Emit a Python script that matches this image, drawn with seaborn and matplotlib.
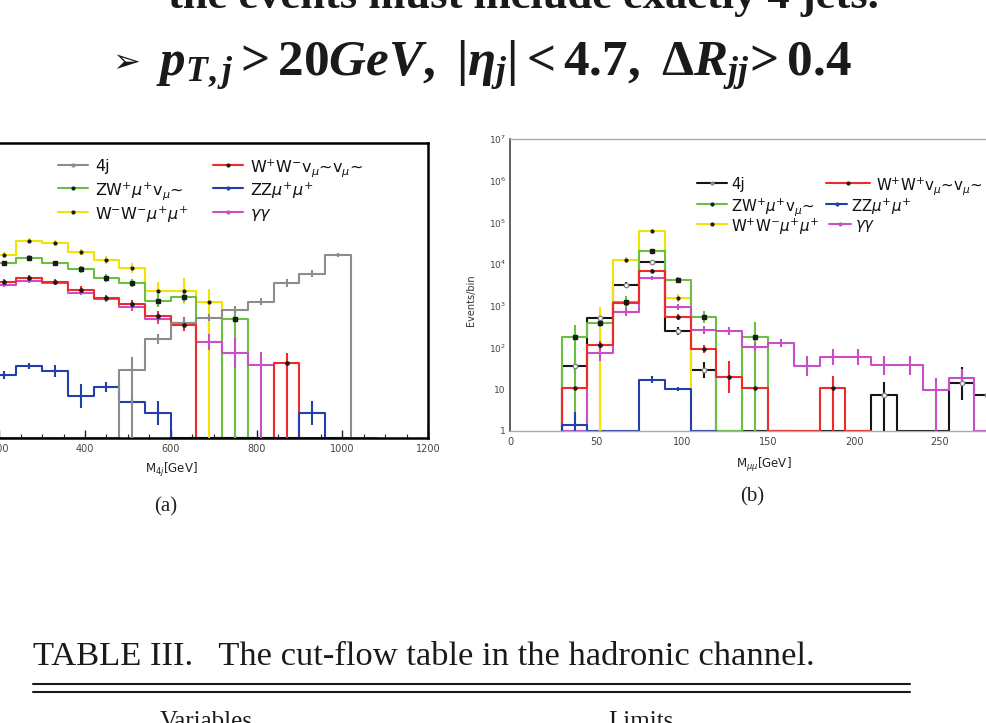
import numpy as np
import pandas as pd
import matplotlib
matplotlib.use("Agg")
import matplotlib.pyplot as plt
from matplotlib.lines import Line2D
from matplotlib.ticker import MultipleLocator, FixedLocator, FixedFormatter, LogLocator, NullFormatter
import seaborn as sns

# ------------------------------------------------------------------ data
# panel (a): M_4j, 60 GeV bins, first listed bin starts at 180 GeV
a_bin_start, a_bin_width = 180, 60
a_4j     = [0, 0, 0, 0, 0, 41, 225, 540, 710, 1100, 1700, 4800, 7900, 22000, 0]
a_wwvv   = [5100, 6300, 5100, 3300, 2100, 1500, 790, 480, 0, 0, 0, 60, 0]
a_zwmuv  = [14000, 19000, 14000, 10000, 6300, 4800, 1800, 2200, 0, 670, 0]
a_zzmumu = [31, 51, 39, 10, 16, 7.2, 3.9, 0, 0, 0, 0, 0, 3.9, 0]
a_wwmumu = [22000, 48000, 43000, 26000, 17000, 11000, 3100, 3100, 1700, 0]
a_gg     = [4300, 5400, 4800, 2800, 2000, 1300, 670, 540, 190, 105, 54, 0]
# error bar half-lengths (decades) and bins whose lower bar reaches the axis
a_4j_err     = [0, 0, 0, 0, 0, 0.3, 0.12, 0.1, 0.08, 0.08, 0.08, 0.1, 0.08, 0.05, 0]
a_wwvv_err   = [0.06, 0.06, 0.06, 0.08, 0.08, 0.1, 0.12, 0.15, 0, 0, 0, 0.25, 0]
a_zwmuv_err  = [0.06, 0.06, 0.06, 0.08, 0.1, 0.1, 0.15, 0.12, 0, 0.3, 0]
a_zzmumu_err = [0.1, 0.08, 0.15, 0.28, 0.12, 0.1, 0.28, 0, 0, 0, 0, 0, 0.28, 0]
a_wwmumu_err = [0.06, 0.06, 0.06, 0.08, 0.1, 0.12, 0.2, 0.3, 0.3, 0]
a_gg_err     = [0.05, 0.05, 0.05, 0.06, 0.08, 0.1, 0.12, 0.15, 0.2, 0.35, 0.3, 0]
a_4j_floor, a_wwvv_floor, a_zwmuv_floor = [5], [11], [9]
a_zzmumu_floor, a_wwmumu_floor, a_gg_floor = [], [8], [10]
a_xticks = [0, 200, 400, 600, 800, 1000, 1200]

# panel (b): M_mumu, 15 GeV bins starting at 30 GeV
b_bin_start, b_bin_width = 30, 15
b_4j     = [36, 510, 3200, 11000, 250, 29, 0, 0, 0, 0, 0, 0, 7.3, 0, 0, 14, 7.3, 0]
b_wwvv   = [11, 115, 1200, 6900, 540, 93, 20, 11, 0, 0, 11, 0]
b_zwmuv  = [178, 390, 1240, 21000, 4200, 540, 0, 180, 0]
b_zzmumu = [1.4, 0, 0, 17, 10, 0]
b_wwmumu = [0, 115, 12600, 63000, 1550, 0]
b_gg     = [0, 74, 710, 4700, 940, 265, 250, 103, 130, 36, 59, 59, 38, 38, 9.6, 19, 0, 0]
b_4j_err     = [0.2, 0.08, 0.06, 0.05, 0.1, 0.2, 0, 0, 0, 0, 0, 0, 0.3, 0, 0, 0.4, 0.3, 0]
b_wwvv_err   = [0, 0.1, 0.05, 0.05, 0.08, 0.1, 0.38, 0, 0, 0, 0.27, 0]
b_zwmuv_err  = [0.3, 0.1, 0.15, 0.05, 0.06, 0.15, 0, 0.35, 0]
b_zzmumu_err = [0.3, 0, 0, 0.08, 0.05, 0]
b_wwmumu_err = [0, 0.9, 0.08, 0.05, 0.1, 0]
b_gg_err     = [0, 0.2, 0.1, 0.05, 0.08, 0.1, 0.1, 0.1, 0.1, 0.23, 0.2, 0.2, 0.23, 0.23, 0.3, 0.2, 0, 0]
b_4j_floor, b_wwvv_floor, b_zwmuv_floor = [12, 16], [10], [0, 7]
b_zzmumu_floor, b_wwmumu_floor, b_gg_floor = [0], [1], [14]
b_xticks = [0, 50, 100, 150, 200, 250, 300]
b_xticklabels = ['0', '50', '100', '150', '200', '250', '']
b_yticks = [1, 10, 100, 1e3, 1e4, 1e5, 1e6, 1e7]
b_yticklabels = ['1', '10', '10$^{2}$', '10$^{3}$', '10$^{4}$', '10$^{5}$', '10$^{6}$', '10$^{7}$']

# ------------------------------------------------------------------ style
sns.set_theme(style='white')
plt.rcParams['font.family'] = ['DejaVu Sans']
plt.rcParams['mathtext.fontset'] = 'custom'
plt.rcParams['mathtext.rm'] = 'Liberation Serif:bold'
plt.rcParams['mathtext.it'] = 'Liberation Serif:bold:italic'
plt.rcParams['mathtext.bf'] = 'Liberation Serif:bold'

GREY, BLACK = '#8c8c8c', '#151515'
RED, GREEN, BLUE = '#ee2a2a', '#6cbf3f', '#2440a8'
YELLOW, MAGENTA = '#f0e400', '#c94fc9'

W, H = 986, 723
fig = plt.figure(figsize=(W / 100, H / 100), dpi=100)
fig.patch.set_facecolor('white')
fx = lambda px: px / W
fy = lambda py: 1 - py / H


def step_df(name, start, width, vals, floor=1.0):
    n = len(vals)
    edges = start + width * np.arange(n + 1)
    v = [max(x, floor) for x in vals]
    xs = [edges[0]] + list(edges[:-1]) + [edges[-1], edges[-1]]
    ys = [floor] + v + [v[-1], floor]
    return pd.DataFrame({'x': xs, 'y': ys, 'series': name})


def draw_panel(ax, series, start, width, lw=1.5):
    df = pd.concat([step_df(s[0], start, width, s[1]) for s in series], ignore_index=True)
    pal = {s[0]: s[4] for s in series}
    sns.lineplot(data=df, x='x', y='y', hue='series', hue_order=[s[0] for s in series],
                 palette=pal, estimator=None, sort=False, drawstyle='steps-post',
                 linewidth=lw, legend=False, ax=ax)
    for name, vals, err, floor_idx, col, mk in series:
        for i, v in enumerate(vals):
            if v <= 0:
                continue
            c = start + width * (i + 0.5)
            e = err[i]
            lo = 1.0 if i in floor_idx else v / 10 ** e
            hi = v * 10 ** e
            if e > 0:
                ax.vlines(c, lo, hi, color=col, lw=lw, zorder=3)
            if mk is not None:
                ax.plot([c], [v], **mk, zorder=4)


# ------------------------------------------------------------------ panel (a)
axa = fig.add_axes([fx(-86.5), fy(438), (428 + 86.5) / W, (438 - 143) / H])
a_series = [
    ('W-W-mumu', a_wwmumu, a_wwmumu_err, a_wwmumu_floor, YELLOW, dict(marker='o', ms=2, color='k', ls='none')),
    ('ZWmuv', a_zwmuv, a_zwmuv_err, a_zwmuv_floor, GREEN, dict(marker='s', ms=2.8, color='k', ls='none')),
    ('gg', a_gg, a_gg_err, a_gg_floor, MAGENTA, None),
    ('WWvv', a_wwvv, a_wwvv_err, a_wwvv_floor, RED, dict(marker='o', ms=2.4, color='k', ls='none')),
    ('ZZmumu', a_zzmumu, a_zzmumu_err, a_zzmumu_floor, BLUE, None),
    ('4j', a_4j, a_4j_err, a_4j_floor, GREY, None),
]
draw_panel(axa, a_series, a_bin_start, a_bin_width)
axa.set_yscale('log')
axa.set_ylim(1, 1e7)
axa.set_xlim(0, 1200)
axa.set_xlabel('')
axa.set_ylabel('')
axa.xaxis.set_major_locator(FixedLocator(a_xticks))
axa.xaxis.set_major_formatter(FixedFormatter([str(t) for t in a_xticks]))
axa.xaxis.set_minor_locator(MultipleLocator(50))
axa.tick_params(axis='x', which='major', direction='in', length=6, width=1, colors='#222',
                labelsize=7, labelcolor='#444', pad=4, bottom=True)
axa.tick_params(axis='x', which='minor', direction='in', length=3, width=0.8, colors='#222', bottom=True)
axa.tick_params(axis='y', which='both', left=False, labelleft=False)
for s in axa.spines.values():
    s.set_color('black')
    s.set_linewidth(1.8)
axa.set_facecolor('none')

# ------------------------------------------------------------------ panel (b)
axb = fig.add_axes([fx(510), fy(431), 516 / W, (431 - 139) / H])
b_series = [
    ('4j', b_4j, b_4j_err, b_4j_floor, BLACK, dict(marker='o', ms=3.2, mfc='white', mec='#888', ls='none')),
    ('W+W-mumu', b_wwmumu, b_wwmumu_err, b_wwmumu_floor, YELLOW, dict(marker='o', ms=2, color='k', ls='none')),
    ('ZWmuv', b_zwmuv, b_zwmuv_err, b_zwmuv_floor, GREEN, dict(marker='s', ms=3, color='k', ls='none')),
    ('gg', b_gg, b_gg_err, b_gg_floor, MAGENTA, None),
    ('WWvv', b_wwvv, b_wwvv_err, b_wwvv_floor, RED, dict(marker='o', ms=2.2, color='k', ls='none')),
    ('ZZmumu', b_zzmumu, b_zzmumu_err, b_zzmumu_floor, BLUE, None),
]
draw_panel(axb, b_series, b_bin_start, b_bin_width)
axb.set_yscale('log')
axb.set_ylim(1, 1e7)
axb.set_xlim(0, 300)
axb.set_xlabel('')
axb.set_ylabel('')
axb.xaxis.set_major_locator(FixedLocator(b_xticks))
axb.xaxis.set_major_formatter(FixedFormatter(b_xticklabels))
axb.xaxis.set_minor_locator(MultipleLocator(10))
axb.yaxis.set_major_locator(FixedLocator(b_yticks))
axb.yaxis.set_major_formatter(FixedFormatter(b_yticklabels))
axb.yaxis.set_minor_locator(LogLocator(base=10, subs=np.arange(2, 10)))
axb.yaxis.set_minor_formatter(NullFormatter())
axb.tick_params(axis='x', which='major', direction='in', length=5, width=0.8, colors='#777',
                labelsize=7, labelcolor='#444', pad=4)
axb.tick_params(axis='x', which='minor', direction='in', length=2.5, width=0.6, colors='#999')
axb.tick_params(axis='y', which='major', direction='in', length=11, width=1.5, colors='#333',
                labelsize=6.5, labelcolor='#444', pad=3)
axb.tick_params(axis='y', which='minor', direction='in', length=5, width=0.8, colors='#555')
for lab in axb.get_yticklabels():
    lab.set_math_fontfamily('dejavusans')
axb.spines['left'].set_color('#444')
axb.spines['left'].set_linewidth(1.2)
for k in ('top', 'bottom', 'right'):
    axb.spines[k].set_color('#aaaaaa')
    axb.spines[k].set_linewidth(1.0)
axb.set_facecolor('none')


# ------------------------------------------------------------------ legends
def entry(x0, x1, xt, y, col, label, mcol, fs=10):
    fig.add_artist(Line2D([fx(x0), fx(x1)], [fy(y)] * 2, color=col, lw=1.5))
    fig.add_artist(Line2D([fx((x0 + x1) / 2)], [fy(y)], marker='o', ms=2, color=mcol, ls='none'))
    fig.text(fx(xt), fy(y), label, fontsize=fs, va='center_baseline', ha='left',
             color='#111', math_fontfamily='dejavusans')


leg_a = [
    (58, 88, 95, 165, GREY, '4j', GREY),
    (58, 88, 95, 188, GREEN, r'ZW$^{+}\mu^{+}$v$_{\mu}$~', 'k'),
    (58, 88, 95, 212, YELLOW, r'W$^{-}$W$^{-}\mu^{+}\mu^{+}$', 'k'),
    (213, 243, 250, 165, RED, r'W$^{+}$W$^{-}$v$_{\mu}$~v$_{\mu}$~', 'k'),
    (213, 243, 250, 188, BLUE, r'ZZ$\mu^{+}\mu^{+}$', BLUE),
    (213, 243, 250, 212, MAGENTA, r'$\gamma\gamma$', MAGENTA),
]
for e in leg_a:
    entry(*e, fs=11.5)

leg_b = [
    (697, 727, 731, 183, BLACK, '4j', '#888'),
    (697, 727, 731, 204, GREEN, r'ZW$^{+}\mu^{+}$v$_{\mu}$~', 'k'),
    (697, 727, 731, 224, YELLOW, r'W$^{+}$W$^{-}\mu^{+}\mu^{+}$', 'k'),
    (826, 870, 876, 183, RED, r'W$^{+}$W$^{+}$v$_{\mu}$~v$_{\mu}$~', 'k'),
    (826, 847, 851, 204, BLUE, r'ZZ$\mu^{+}\mu^{+}$', BLUE),
    (829, 851, 855, 224, MAGENTA, r'$\gamma\gamma$', MAGENTA),
]
for e in leg_b:
    entry(*e, fs=10.8)

# ------------------------------------------------------------------ labels
fig.text(fx(171), fy(470), r'M$_{4j}$[GeV]', fontsize=8.5, ha='center', va='center',
         color='#222', math_fontfamily='dejavusans')
fig.text(fx(764), fy(465), r'M$_{\mu\mu}$[GeV]', fontsize=8.5, ha='center', va='center',
         color='#222', math_fontfamily='dejavusans')
fig.text(fx(471), fy(300), 'Events/bin', fontsize=7, rotation=90, ha='center', va='center', color='#333')
fig.text(fx(166), fy(507), '(a)', fontsize=15, ha='center', va='center', family='Liberation Serif', color='#222')
fig.text(fx(752), fy(497), '(b)', fontsize=15, ha='center', va='center', family='Liberation Serif', color='#222')


# ------------------------------------------------------------------ slide text
def fit(t, target):
    fig.canvas.draw()
    r = fig.canvas.get_renderer()
    w = t.get_window_extent(r).width
    t.set_fontsize(t.get_fontsize() * target / w)


t_top = fig.text(fx(168), fy(8), 'the events must include exactly 4 jets.', fontsize=26,
                 family='Liberation Serif', weight='bold', ha='left', va='baseline', color='k')
fig.text(fx(108), fy(2), '➢', fontsize=22, family='DejaVu Sans', weight='bold', ha='left', va='baseline', color='k')
t_arrow = fig.text(fx(112), fy(63), '➢', fontsize=26, family='DejaVu Sans', weight='bold',
                   ha='left', va='center', color='k')
t_f = fig.text(fx(156), fy(76), r'$p_{T,j} > 20GeV,\ |\eta_j| < 4.7,\ \Delta R_{jj}\!> 0.4$',
               fontsize=27, ha='left', va='baseline', color='k')
t_cap = fig.text(fx(33), fy(665), 'TABLE III.   The cut-flow table in the hadronic channel.',
                 fontsize=19, family='Liberation Serif', ha='left', va='baseline', color='k')
fit(t_top, 712)
fit(t_f, 697)
fit(t_cap, 779)
fit(t_arrow, 28)

fig.add_artist(Line2D([fx(33), fx(910)], [fy(684)] * 2, color='k', lw=1.5))
fig.add_artist(Line2D([fx(33), fx(910)], [fy(692)] * 2, color='k', lw=1.5))
fig.text(fx(160), fy(711), 'Variables', fontsize=18, family='Liberation Serif', ha='left', va='top', color='k')
fig.text(fx(608), fy(711), 'Limits', fontsize=18, family='Liberation Serif', ha='left', va='top', color='k')

fig.savefig('out.png', dpi=100, facecolor='white')
